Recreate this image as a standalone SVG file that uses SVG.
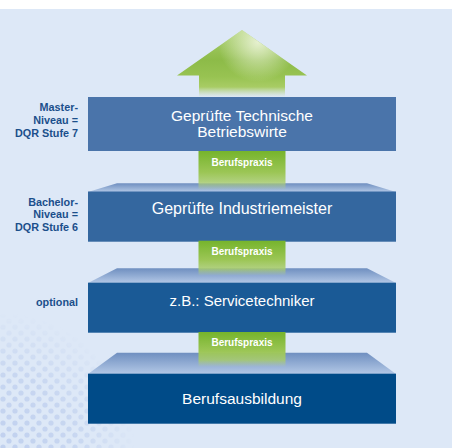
<svg xmlns="http://www.w3.org/2000/svg" width="452" height="448" viewBox="0 0 452 448">
<defs>
<style>
.box{stroke:none}
.t{font-family:"Liberation Sans",Arial,sans-serif;font-size:15.5px;fill:#ffffff;text-anchor:middle}
.tab{font-family:"Liberation Sans",Arial,sans-serif;font-size:10px;font-weight:bold;fill:#ffffff;text-anchor:middle}
.lbl{font-family:"Liberation Sans",Arial,sans-serif;font-size:10.8px;font-weight:bold;fill:#1b4f8b;text-anchor:end}
</style>
<linearGradient id="trap" x1="0" y1="0" x2="0" y2="1">
<stop offset="0" stop-color="#6f8fc0"/>
<stop offset="1" stop-color="#b3c8e6"/>
</linearGradient>
<linearGradient id="tabg" x1="0" y1="0" x2="0" y2="1">
<stop offset="0" stop-color="#76b42c"/>
<stop offset="0.55" stop-color="#9cc656"/>
<stop offset="0.8" stop-color="#a8cc6a" stop-opacity="0.85"/>
<stop offset="1" stop-color="#b8d48a" stop-opacity="0"/>
</linearGradient>
<linearGradient id="arrowg" x1="0" y1="30" x2="0" y2="97" gradientUnits="userSpaceOnUse">
<stop offset="0" stop-color="#a9cf6e"/>
<stop offset="0.45" stop-color="#8dbb48"/>
<stop offset="0.7" stop-color="#98c352"/>
<stop offset="0.85" stop-color="#a8cc64"/>
<stop offset="1" stop-color="#c2da96" stop-opacity="0"/>
</linearGradient>
<radialGradient id="hl" cx="258" cy="42" r="40" gradientUnits="userSpaceOnUse">
<stop offset="0" stop-color="#eef5dc" stop-opacity="0.9"/>
<stop offset="1" stop-color="#eef5dc" stop-opacity="0"/>
</radialGradient>
<pattern id="dots" x="0" y="0" width="12" height="12" patternUnits="userSpaceOnUse">
<circle cx="3" cy="3" r="2.6" fill="#c0d0ee"/>
<circle cx="9" cy="9" r="2.6" fill="#c0d0ee"/>
</pattern>
<radialGradient id="dm" cx="0" cy="448" r="135" gradientUnits="userSpaceOnUse">
<stop offset="0" stop-color="#fff" stop-opacity="1"/>
<stop offset="0.55" stop-color="#fff" stop-opacity="0.75"/>
<stop offset="1" stop-color="#fff" stop-opacity="0"/>
</radialGradient>
<mask id="dmask"><rect x="0" y="300" width="150" height="148" fill="url(#dm)"/></mask>
</defs>

<rect x="0" y="0" width="452" height="448" fill="#ffffff"/>
<rect x="0" y="9" width="452" height="439" fill="#dde8f7"/>
<rect x="0" y="312" width="150" height="136" fill="url(#dots)" mask="url(#dmask)"/>

<g id="arrow">
<polygon points="242,30 307,75.5 285,75.5 285,97 199,97 199,75.5 177,75.5" fill="url(#arrowg)"/>
<polygon points="242,30 307,75.5 285,75.5 285,97 199,97 199,75.5 177,75.5" fill="url(#hl)"/>
</g>

<g id="node-master">
<rect class="box" x="88" y="97" width="308" height="54" fill="#4a74aa"/>
<text class="t" x="242" y="120.5">Geprüfte Technische</text>
<text class="t" x="242" y="137">Betriebswirte</text>
</g>

<g id="node-meister">
<polygon points="117,183.3 367,183.3 396,192 88,192" fill="url(#trap)"/>
<rect class="box" x="88" y="191.5" width="308" height="50.2" fill="#34679f"/>
<text class="t" x="242" y="213.5" style="font-size:16px">Geprüfte Industriemeister</text>
</g>

<g id="node-service">
<polygon points="117,268.3 367,268.3 396,283 88,283" fill="url(#trap)"/>
<rect class="box" x="88" y="282.7" width="308" height="50" fill="#1a5a96"/>
<text class="t" x="242" y="306" style="font-size:15px">z.B.: Servicetechniker</text>
</g>

<g id="node-ausbildung">
<polygon points="117,352.7 367,352.7 396,374 88,374" fill="url(#trap)"/>
<rect class="box" x="88" y="373.7" width="308" height="50" fill="#004b88"/>
<text class="t" x="242" y="404.3">Berufsausbildung</text>
</g>

<g id="connectors">
<g id="tab1">
<rect x="198.5" y="151" width="87" height="39" fill="url(#tabg)"/>
<text class="tab" x="242" y="165.5">Berufspraxis</text>
</g>
<g id="tab2">
<rect x="198.5" y="240.7" width="87" height="35" fill="url(#tabg)"/>
<text class="tab" x="242" y="254.5">Berufspraxis</text>
</g>
<g id="tab3">
<rect x="198.5" y="332" width="87" height="35" fill="url(#tabg)"/>
<text class="tab" x="242" y="346">Berufspraxis</text>
</g>
</g>

<g id="labels">
<text class="lbl" x="78" y="110.7">Master-</text>
<text class="lbl" x="78" y="123.7">Niveau =</text>
<text class="lbl" x="78" y="136.7">DQR Stufe 7</text>
<text class="lbl" x="78" y="205.7">Bachelor-</text>
<text class="lbl" x="78" y="218.4">Niveau =</text>
<text class="lbl" x="78" y="231">DQR Stufe 6</text>
<text class="lbl" x="78" y="305.5">optional</text>
</g>
</svg>
